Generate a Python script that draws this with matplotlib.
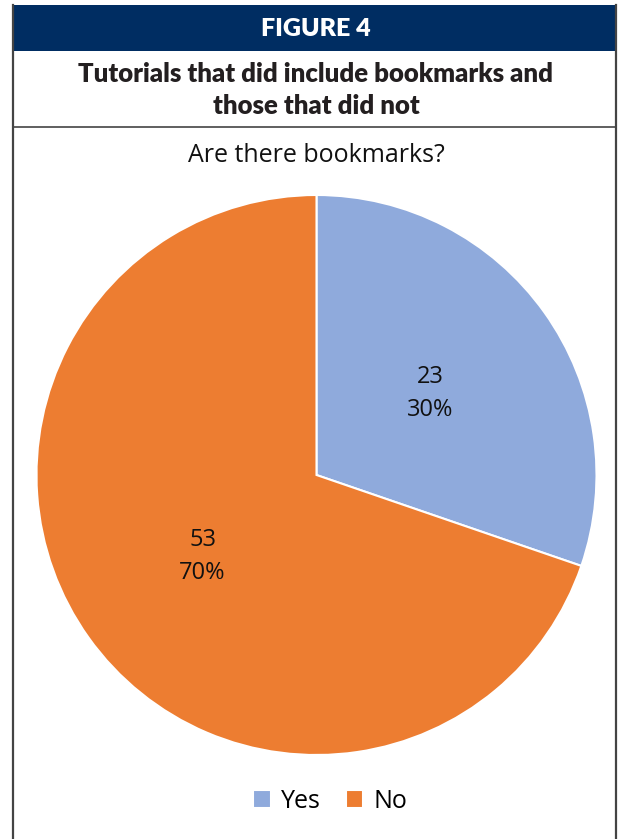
import matplotlib
matplotlib.use("Agg")
import matplotlib.pyplot as plt
from matplotlib.patches import Rectangle

categories = ["Yes", "No"]
values = [23, 53]
colors = ["#8FAADC", "#ED7D31"]
header = "FIGURE 4"
subtitle = "Tutorials that did include bookmarks and\nthose that did not"
chart_title = "Are there bookmarks?"

W, H = 618, 839
fig = plt.figure(figsize=(W / 100, H / 100), dpi=100)
fig.patch.set_facecolor("white")

bg = fig.add_axes([0, 0, 1, 1])
bg.set_xlim(0, W)
bg.set_ylim(H, 0)
bg.axis("off")
bg.add_patch(Rectangle((13, 5), 603, 46, facecolor="#002D62", edgecolor="none"))
bg.plot([13, 13], [5, H], color="#444444", lw=1.6)
bg.plot([616, 616], [5, H], color="#444444", lw=1.6)
bg.plot([13, 616], [127, 127], color="#444444", lw=1.2)
bg.text(316, 29, header, color="white", fontsize=18, fontweight="heavy",
        family=["Lato", "DejaVu Sans"], ha="center", va="center")
bg.text(316, 90, subtitle, color="#231F20", fontsize=18.5, fontweight="heavy",
        family=["Lato", "DejaVu Sans"], ha="center", va="center", linespacing=1.45)
bg.text(316, 156, chart_title, color="#111111", fontsize=18,
        family=["Open Sans", "DejaVu Sans"], ha="center", va="center")

ax = fig.add_axes([36.5 / W, 84 / H, 560 / W, 560 / H])
total = sum(values)

def fmt(p):
    n = int(round(p * total / 100))
    return f"{n}\n{p:.0f}%"

wedges, texts, autotexts = ax.pie(
    values, colors=colors, startangle=90, counterclock=False,
    autopct=fmt, pctdistance=0.5,
    wedgeprops=dict(edgecolor="white", linewidth=1.5),
    textprops=dict(fontsize=17, color="#111111", family=["Open Sans", "DejaVu Sans"], linespacing=1.5),
)
ax.set_xlim(-1, 1)
ax.set_ylim(-1, 1)
ax.set_aspect("equal")

leg = fig.legend(wedges, categories, loc="center", bbox_to_anchor=(330 / W, 1 - 801 / H),
                 ncol=2, frameon=False, handlelength=0.7, handleheight=0.7,
                 handletextpad=0.4, columnspacing=1.0,
                 prop=dict(family=["Open Sans", "DejaVu Sans"], size=18))

fig.savefig("out.png", dpi=100)
